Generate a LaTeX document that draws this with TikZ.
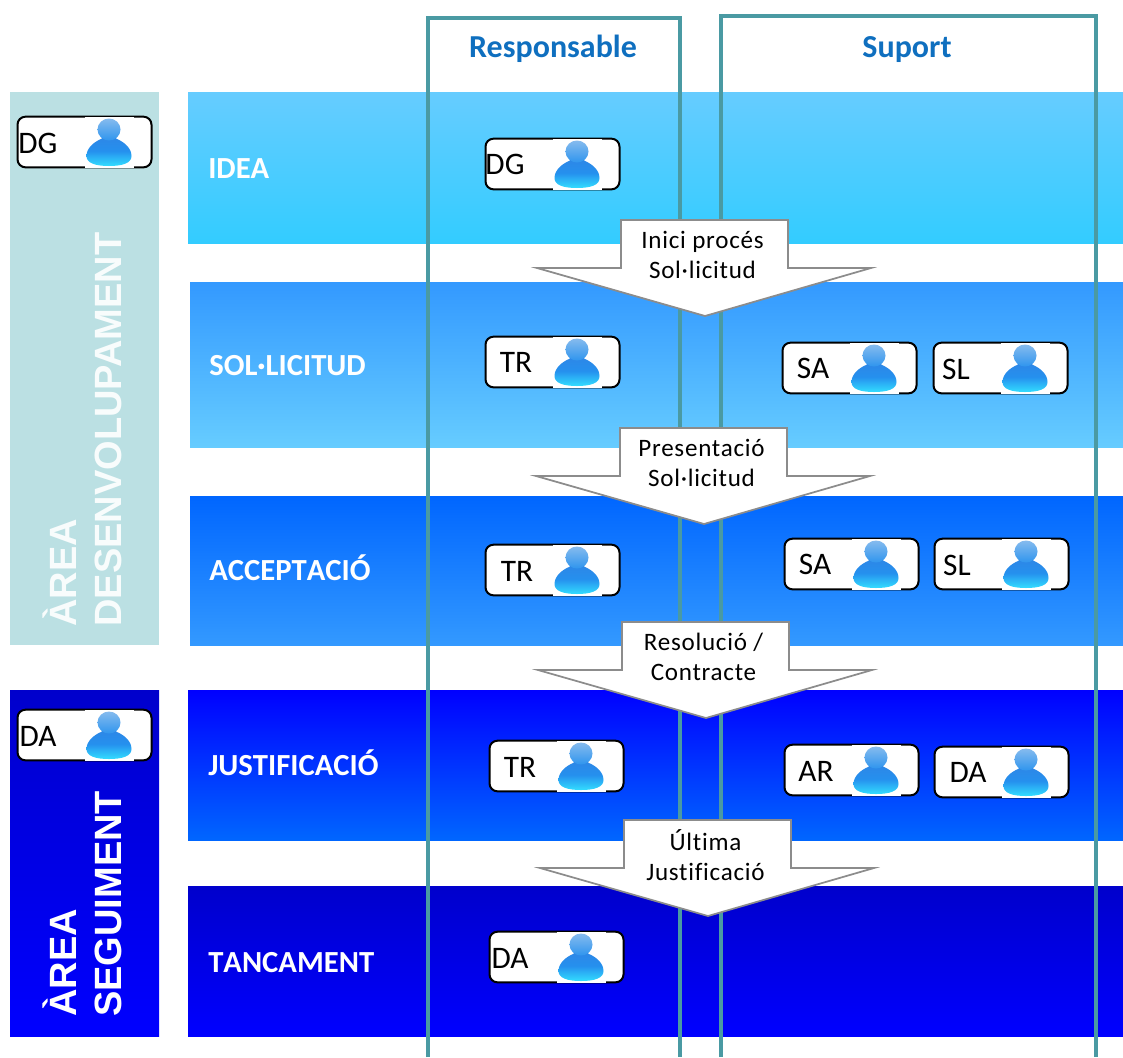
\documentclass[tikz,border=0pt]{standalone}
\usepackage{fontspec}
\setmainfont{Carlito}[Ligatures=NoCommon]
\newfontfamily\armain{Liberation Sans}
\newfontfamily\spaced{Carlito}[LetterSpace=3,Ligatures=NoCommon]
\newfontfamily\bandfont{Carlito}[Kerning=Off,Ligatures=NoCommon]
\usetikzlibrary{calc}
\definecolor{teal1}{HTML}{4A9AA3}
\definecolor{head1}{HTML}{0F6FBF}
\definecolor{pale}{HTML}{BBE0E3}
\definecolor{arrowgray}{HTML}{8C8C8C}
\definecolor{bodytop}{HTML}{2E86E6}
\definecolor{bodymid}{HTML}{2590EE}
\definecolor{bodybot}{HTML}{33DDFF}
\definecolor{headtop}{HTML}{86BBEE}
\definecolor{headbot}{HTML}{2F95EE}
\definecolor{cA}{HTML}{66CCFF}
\definecolor{cB}{HTML}{33CCFF}
\definecolor{cC}{HTML}{3399FF}
\definecolor{cD}{HTML}{0066FF}
\definecolor{cE}{HTML}{0000FF}
\definecolor{cF}{HTML}{0000CC}
\tikzset{
  x=0.75pt, y=-0.75pt,
  frameline/.style={draw=teal1, line width=2.7pt, line join=miter},
  flowarrow/.style={draw=arrowgray, fill=white, line width=1.3pt, line join=miter},
  arrowtext/.style={font=\fontsize{18.8}{23}\selectfont\spaced, align=center, inner sep=0pt, text=black},
  bandlabel/.style={font=\fontsize{23}{27}\selectfont\bandfont\bfseries, text=white, anchor=base west, inner sep=0pt},
  headlabel/.style={font=\fontsize{24}{28}\selectfont\bfseries, text=head1, anchor=base, inner sep=0pt},
  sidelabel/.style={font=\fontsize{28.5}{33.75}\selectfont\armain\bfseries, rotate=90, align=left, anchor=base west, inner sep=0pt},
  personbox/.style={draw=black, fill=white, line width=1.5pt, rounded corners=6pt, minimum width=100.5pt, minimum height=38pt, inner sep=0pt},
  boxtext/.style={font=\fontsize{23.5}{27}\selectfont, text=black, inner sep=0pt},
  persona/.pic={
    \fill[white] (-24.5,-25.5) rectangle (24.5,25.5);
    \shade[top color=bodytop, bottom color=bodybot, middle color=bodymid]
      (0,-6) .. controls (-5,-6) and (-7,-4) .. (-8,-3)
      .. controls (-15,0) and (-22.5,6) .. (-22.5,14)
      .. controls (-22.5,21) and (-14,24) .. (0,24)
      .. controls (14,24) and (22.5,21) .. (22.5,14)
      .. controls (22.5,6) and (15,0) .. (8,-3)
      .. controls (7,-4) and (5,-6) .. (0,-6) -- cycle;
    \shade[top color=headtop, bottom color=headbot]
      (0,-12.5) ellipse [x radius=11.5, y radius=11];
  },
}
\newcommand{\pbox}[6]{%
  \node[personbox] (#1) at ({#2+67.5},{#3+26}) {};
  \pic at ({#2+92},{#3+26}) {persona};
  \node[boxtext] (#1t) at (#4,#5) {#6};
}
\newcommand{\farrow}[5]{%
  \draw[flowarrow] (#2,#3) -- ({#2+167},#3) -- ({#2+167},{#3+48}) -- ({#2+250},{#3+48})
    -- ({#2+84},{#3+96}) -- ({#2-84},{#3+48}) -- (#2,{#3+48}) -- cycle;
  \node[arrowtext] (#1) at ({#2+81.5},{#3+35}) {#4\\#5};
}
\begin{document}
\begin{tikzpicture}
\useasboundingbox (0,0) rectangle (1123,1057);
% side panels
\fill[pale] (10,92) rectangle (159,645);
\shade[top color=cF, bottom color=cE] (10,690) rectangle (159,1036);
% bands
\shade[top color=cA, bottom color=cB] (188,92) rectangle (1123,243);
\shade[top color=cC, bottom color=cA] (190,282) rectangle (1123,447);
\shade[top color=cD, bottom color=cC] (190,496) rectangle (1123,645);
\shade[top color=cE, bottom color=cD] (188,690) rectangle (1123,840);
\shade[top color=cF, bottom color=cE] (188,886) rectangle (1123,1036);
% side labels
\node[sidelabel, text=white!90!pale] (areadev) at (121,627) {ÀREA\\DESENVOLUPAMENT};
\node[sidelabel, text=white] (areaseg) at (121,1017) {ÀREA\\SEGUIMENT};
% band labels
\node[bandlabel] (idea) at (208,178) {IDEA};
\node[bandlabel] (sol) at (209,375) {SOL·LICITUD};
\node[bandlabel] (acc) at (209,580) {ACCEPTACIÓ};
\node[bandlabel] (jus) at (208,775) {JUSTIFICACIÓ};
\node[bandlabel] (tan) at (208,972) {TANCAMENT};
% frames
\draw[frameline] (428,1057) -- (428,18) -- (680,18) -- (680,1057);
\draw[frameline] (721,1057) -- (721,16) -- (1096,16) -- (1096,1057);
\node[headlabel] (resp) at (553,57) {Responsable};
\node[headlabel] (sup) at (907,57) {Suport};
% arrows
\farrow{a1}{621}{220}{Inici procés}{Sol·licitud}
\farrow{a2}{620}{428}{Presentació}{Sol·licitud}
\farrow{a3}{622}{622}{Resolució /}{Contracte}
\farrow{a4}{624}{820}{Última}{Justificació}
% person boxes
\pbox{sdg}{17}{116}{38}{143}{DG}
\pbox{sda}{17}{709}{38}{736}{DA}
\pbox{b1}{485}{138}{505}{164}{DG}
\pbox{b2}{485}{336}{516}{362}{TR}
\pbox{b3}{782}{342}{813}{368}{SA}
\pbox{b4}{933}{342}{956}{369}{SL}
\pbox{b5}{485}{544}{517}{571}{TR}
\pbox{b6}{784}{538}{815}{564}{SA}
\pbox{b7}{934}{538}{957}{565}{SL}
\pbox{b8}{489}{740}{520}{767}{TR}
\pbox{b9}{784}{744}{816}{771}{AR}
\pbox{b10}{934}{746}{968}{772}{DA}
\pbox{b11}{489}{931}{510}{958}{DA}
\end{tikzpicture}
\end{document}
